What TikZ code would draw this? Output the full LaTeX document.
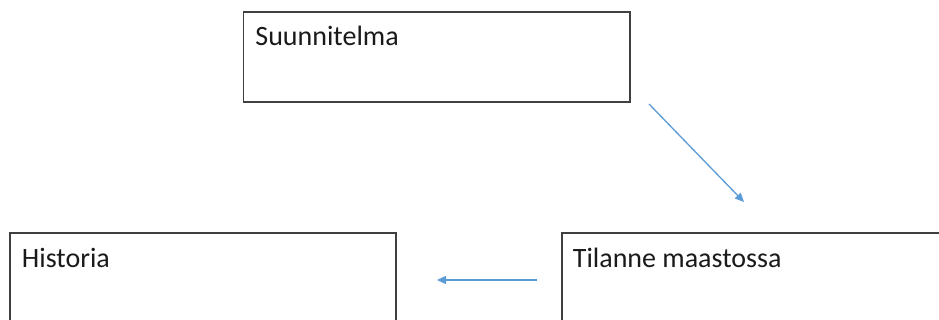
\documentclass[tikz,border=0pt]{standalone}
\usepackage{fontspec}
\setmainfont{Carlito}
\usetikzlibrary{arrows.meta}
\definecolor{boxline}{HTML}{404040}
\definecolor{flow}{HTML}{5B9BD5}
\definecolor{ink}{HTML}{1A1A1A}
\begin{document}
\begin{tikzpicture}[x=1pt,y=-1pt,
  box/.style={draw=boxline, line width=1.6pt, rectangle, inner sep=0pt},
  caption/.style={anchor=base west, inner sep=0pt, text=ink,
    font=\fontsize{28}{34}\selectfont},
  flowarrow/.style={draw=flow, line width=1.3pt,
    -{Triangle[length=9pt,width=8pt]}}]
  % page frame
  \useasboundingbox (0,0) rectangle (939,320);
  \fill[white] (0,0) rectangle (939,320);

  % boxes
  \node[box, minimum width=386.5pt, minimum height=90pt] (plan) at (436.75,57) {};
  \node[box, minimum width=386pt, minimum height=110pt] (hist) at (203,288) {};
  \node[box, minimum width=390pt, minimum height=110pt] (site) at (757,288) {};

  % captions in the upper left corners
  \node[caption] (planlbl) at ([xshift=12.5pt,yshift=-34pt]plan.north west) {Suunnitelma};
  \node[caption] (histlbl) at ([xshift=12.5pt,yshift=-35pt]hist.north west) {Historia};
  \node[caption] (sitelbl) at ([xshift=11.5pt,yshift=-35pt]site.north west) {Tilanne maastossa};

  % free-standing flow arrows
  \coordinate (a1s) at (649,104);
  \coordinate (a1e) at (744,202);
  \coordinate (a2s) at (537,280);
  \coordinate (a2e) at (437,280);
  \draw[flowarrow] (a1s) -- (a1e);
  \draw[flowarrow] (a2s) -- (a2e);
\end{tikzpicture}
\end{document}
